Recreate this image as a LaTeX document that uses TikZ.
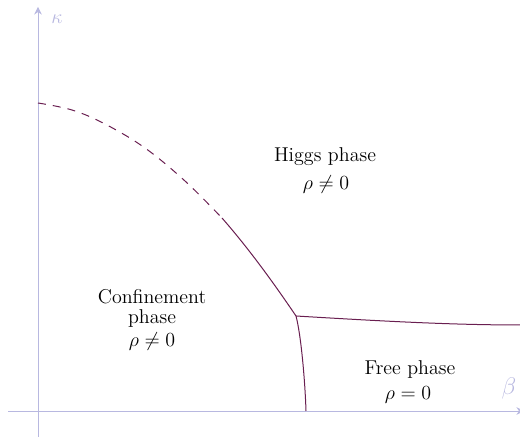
\documentclass[tikz,border=0pt]{standalone}
\usetikzlibrary{arrows.meta}
\definecolor{axiscol}{RGB}{184,184,224}
\definecolor{curvecol}{RGB}{105,30,80}
\tikzset{
  axisline/.style={draw=axiscol, line width=0.5pt, -{Stealth[length=4.5pt,width=4.5pt]}},
  axislabel/.style={text=axiscol, font=\large},
  boundary/.style={draw=curvecol, line width=0.6pt},
  phaselabel/.style={align=center, font=\large, inner sep=0pt},
}
\begin{document}
\begin{tikzpicture}[x=0.6pt, y=-0.6pt]
\useasboundingbox (0,0) rectangle (520,437);
% axes
\coordinate (xs) at (8,411);
\coordinate (xe) at (524,411);
\coordinate (ys) at (38,437);
\coordinate (ye) at (38,7);
\draw[axisline] (xs) -- (xe);
\draw[axisline] (ys) -- (ye);
\node[axislabel] (kappa) at (57,19) {$\kappa$};
\node[axislabel, font=\Large] (beta) at (509,389) {$\beta$};
% phase boundaries
\coordinate (K) at (38,103);
\coordinate (S) at (222,218);
\coordinate (T) at (296,316);
\coordinate (R) at (522,325);
\coordinate (B) at (306,411);
\draw[boundary, dash pattern=on 4.8pt off 4.2pt]
  plot[smooth, tension=0.6] coordinates {(38,103) (72,110) (105,124) (145,148) (185,181) (222,218)};
\draw[boundary] (S) .. controls (250,250) and (275,285) .. (T);
\draw[boundary] (T) .. controls (380,321) and (450,325) .. (R);
\draw[boundary] (T) .. controls (301,335) and (305,380) .. (B);
% labels
\node[phaselabel] (higgs) at (325,157) {Higgs phase};
\node[phaselabel] (higgsr) at (326,185) {$\rho\neq 0$};
\node[phaselabel] (conf1) at (152,297) {Confinement};
\node[phaselabel] (conf2) at (152,319) {phase};
\node[phaselabel] (confr) at (152,342) {$\rho\neq 0$};
\node[phaselabel] (free) at (410,370) {Free phase};
\node[phaselabel] (freer) at (408,395) {$\rho=0$};
\end{tikzpicture}
\end{document}
